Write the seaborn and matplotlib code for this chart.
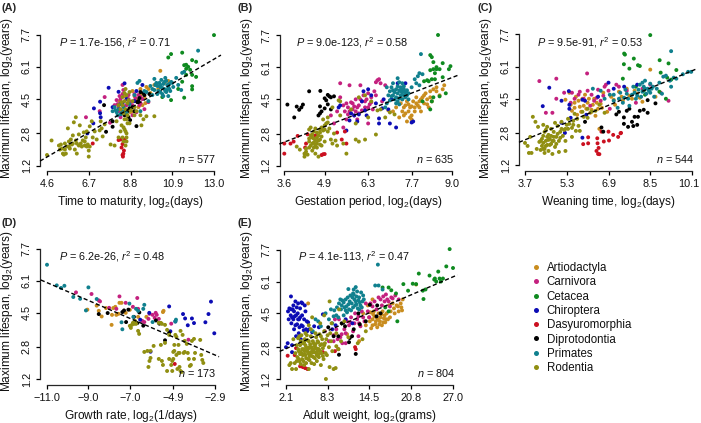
import matplotlib
matplotlib.use("Agg")
import matplotlib.pyplot as plt
from matplotlib.lines import Line2D
from matplotlib.transforms import ScaledTranslation
import pandas as pd
import seaborn as sns

sns.set_style("ticks")
plt.rcParams['font.family'] = ['Liberation Sans', 'DejaVu Sans']
plt.rcParams['mathtext.fontset'] = 'custom'
plt.rcParams['mathtext.rm'] = 'Liberation Sans'
plt.rcParams['mathtext.it'] = 'Liberation Sans:italic'
plt.rcParams['mathtext.bf'] = 'Liberation Sans:bold'

ORDERS = ["Artiodactyla", "Carnivora", "Cetacea", "Chiroptera", "Dasyuromorphia",
          "Diprotodontia", "Primates", "Rodentia"]
COLORS = ["#C98D1F", "#C4217F", "#0F8A20", "#0C0CB4", "#CB1020", "#000000", "#10808E", "#908F12"]
YTICKS = [1.2, 2.8, 4.5, 6.1, 7.7]

# ---------- Panel A ----------
A_art = [(8.7,4.3),(8.9,4.9),(9.1,4.5),(9.3,5.0),(9.5,4.6),(9.6,5.1),(9.8,4.8),(10.3,5.9),(10.0,5.2),(10.2,5.0),(10.5,5.3),(10.7,5.4),(9.2,4.1),(8.6,4.6),(9.4,4.2),(8.9,3.9),(8.25,4.4),(8.5,4.65),(9.0,4.65),(9.35,4.75),(9.55,4.3),(8.8,3.85),(9.7,5.0)]
A_car = [(6.56,3.6),(7.5,4.6),(7.25,3.9),(7.77,3.33),(8.1,4.45),(8.2,4.1),(8.44,4.95),(8.4,5.2),(8.0,4.2),(8.3,4.5),(8.5,3.9),(8.6,4.2),(8.2,3.9),(8.9,4.2),(9.0,4.4),(9.2,4.7),(9.3,4.3),(9.4,4.5),(9.5,4.0),(8.7,4.7),(8.9,3.7),(8.3,3.6),(9.1,3.85),(9.7,4.35),(8.3,4.3),(8.45,4.15),(8.7,4.5),(8.8,4.35),(9.05,4.55),(9.15,4.35),(9.3,4.6),(8.4,4.75),(8.25,4.65),(8.15,4.25),(9.0,4.75),(9.25,4.2)]
A_cet = [(13.0,7.67),(10.84,6.73),(10.7,6.56),(11.4,6.8),(11.5,6.18),(11.6,6.0),(11.7,6.1),(11.8,5.95),(11.9,6.43),(12.1,6.35),(11.9,5.14),(11.9,4.98),(11.5,4.57),(10.84,4.45),(11.4,5.36),(11.6,5.7),(11.9,5.7),(12.1,5.6),(10.4,4.6),(11.2,5.0),(11.6,6.2)]
A_chi = [(7.7,5.06),(8.5,5.28),(8.2,4.86),(7.27,4.37),(6.96,4.04),(7.27,3.8),(6.93,3.3),(6.63,2.8),(8.6,4.5),(9.1,4.9),(9.4,5.2),(7.3,3.6),(7.9,4.1),(8.4,4.3),(9.0,4.4)]
A_das = [(6.9,2.3),(8.2,2.47),(8.3,2.5),(8.4,2.27),(8.44,1.8),(8.4,1.73),(8.47,1.95),(8.5,2.5),(8.35,2.1),(8.42,1.65)]
A_dip = [(7.47,4.2),(7.9,3.13),(7.57,2.88),(9.1,3.16),(8.78,3.46),(8.36,3.8),(8.6,3.95),(9.2,4.4),(9.5,4.7),(9.75,4.75),(8.5,3.7),(8.9,4.1),(9.0,3.9),(8.7,3.6),(9.3,4.85),(7.9,3.4),(8.55,3.85),(8.65,3.9),(8.75,4.05),(9.15,4.35),(9.25,4.55),(9.45,4.8)]
A_pri = [(12.2,6.9),(11.4,5.8),(11.5,5.85),(7.9,3.9),(8.0,4.1),(8.1,3.85),(8.15,3.7),(8.3,4.25),(8.4,3.9),(8.6,3.8),(9.0,4.7),(9.15,5.3),(9.25,5.4),(9.8,5.15),(10.0,5.5),(10.1,5.3),(10.2,4.9),(10.3,5.1),(10.35,5.45),(10.4,4.75),(10.45,5.25),(10.5,5.0),(10.55,5.55),(10.6,4.85),(10.65,5.2),(10.7,4.65),(10.75,5.0),(10.85,5.35),(10.95,5.1),(11.1,5.55),(11.2,5.2),(11.35,4.95),(9.6,4.85),(9.7,4.4),(9.9,4.7),(9.3,3.9),(9.5,4.9),(10.0,4.95),(10.15,5.15),(10.6,5.4),(8.2,4.0),(8.45,4.1),(8.75,4.25),(8.3,3.75),(8.05,3.95),(9.9,5.0),(10.05,5.2),(10.25,5.3),(10.3,4.85),(10.4,5.05),(10.5,5.35),(10.55,4.9),(10.7,5.1),(10.8,4.9),(10.9,5.3),(10.3,5.2),(10.6,4.95),(10.45,4.65),(10.75,5.25),(10.15,4.75)]
A_rod = [(4.6,1.73),(4.83,2.45),(5.2,2.2),(5.25,2.0),(5.3,2.25),(5.4,1.8),(5.45,1.75),(5.5,2.0),(5.55,1.8),(5.6,2.15),(5.65,3.05),(5.7,2.4),(5.75,2.05),(5.8,2.5),(5.85,2.25),(5.9,2.7),(5.95,3.35),(6.0,2.0),(6.05,3.6),(6.1,1.8),(6.1,2.3),(6.2,2.75),(6.25,3.2),(6.3,2.3),(6.35,2.15),(6.4,2.45),(6.45,2.85),(6.5,2.2),(6.55,2.6),(6.6,2.9),(6.65,2.25),(6.7,1.65),(6.7,1.95),(6.75,2.15),(6.75,3.15),(6.85,3.4),(6.9,2.6),(7.0,2.9),(7.1,2.5),(7.25,2.95),(7.3,3.4),(7.35,3.05),(7.4,2.65),(7.5,3.25),(7.8,2.25),(8.0,2.2),(8.1,3.4),(8.2,2.6),(8.35,3.2),(8.4,2.6),(8.45,2.4),(8.5,3.0),(8.5,3.5),(8.55,2.2),(8.6,2.8),(8.65,3.7),(8.6,2.4),(8.55,4.0),(8.3,4.0),(8.2,4.2),(8.5,4.4),(8.6,4.7),(8.55,5.0),(8.4,4.6),(8.75,3.3),(8.9,4.4),(9.0,4.1),(9.1,3.9),(9.3,3.7),(9.35,3.2),(9.45,3.5),(9.6,3.65),(10.0,3.65),(9.0,3.7),(8.8,3.95),(8.65,3.3),(8.4,4.2),(8.65,4.3),(8.7,4.45),(8.75,4.85),(8.5,4.8),(8.35,4.35),(8.45,3.8),(8.6,3.5),(8.45,3.1),(8.3,2.9),(8.55,2.9),(8.6,2.6),(5.5,2.3),(5.9,2.3),(6.2,2.2),(6.05,2.45),(6.5,2.4),(6.6,2.15),(5.35,2.05),(5.7,2.15)]

# ---------- Panel B ----------
B_art = [(7.1,3.9),(7.2,4.1),(7.3,3.6),(7.35,4.3),(7.4,3.9),(7.45,3.7),(7.5,4.2),(7.55,4.4),(7.55,3.4),(7.6,3.9),(7.65,4.1),(7.7,3.7),(7.75,4.4),(7.8,4.1),(7.85,4.6),(7.9,4.2),(7.95,4.4),(8.0,3.9),(8.05,4.6),(8.1,4.3),(8.15,4.8),(8.2,4.5),(8.3,4.9),(8.35,4.4),(8.4,5.0),(8.5,5.1),(8.6,4.7),(8.7,5.0),(8.75,5.2),(7.4,4.5),(6.95,3.95),(8.25,4.1),(7.5,3.8),(7.6,4.25),(7.7,4.15),(7.8,3.9),(7.85,4.3),(7.95,4.1),(8.0,4.5),(8.1,4.7),(8.2,4.25),(7.65,3.6),(7.45,4.1),(7.7,3.5),(8.3,4.6),(8.5,4.9)]
B_car = [(5.1,3.7),(5.2,3.3),(5.3,3.9),(5.4,4.6),(5.4,5.3),(5.5,4.2),(5.55,3.9),(5.6,3.5),(5.65,4.1),(5.7,5.2),(5.75,4.35),(5.8,4.0),(5.85,3.7),(5.9,4.5),(5.95,4.1),(6.0,3.8),(6.05,5.2),(6.1,4.4),(6.15,4.7),(6.2,4.1),(6.25,4.5),(6.3,4.8),(6.35,4.25),(6.4,4.6),(6.45,4.0),(6.5,4.9),(6.6,5.45),(6.65,5.5),(6.7,5.3),(6.75,4.4),(6.85,5.2),(6.3,3.3),(5.95,3.5),(6.55,4.7),(5.5,3.1),(5.7,3.9),(5.8,4.3),(5.9,3.9),(6.0,4.2),(6.1,3.95),(6.2,4.4),(6.3,4.1),(6.4,4.35),(5.85,4.15),(5.65,3.75),(5.6,4.3),(6.05,4.5),(6.55,5.35)]
B_cet = [(8.55,7.7),(8.3,6.7),(8.35,6.6),(8.4,6.35),(8.3,5.95),(8.4,6.0),(8.45,5.8),(8.5,6.1),(8.35,5.5),(8.25,5.4),(8.1,5.4),(8.2,5.45),(8.45,5.5),(8.6,6.0),(8.7,6.3),(8.95,6.15),(8.9,6.0),(8.7,5.6),(8.8,4.8),(8.6,4.65),(8.3,4.0),(8.35,4.4),(8.4,4.6),(8.05,4.4),(8.5,6.0)]
B_chi = [(5.35,4.1),(5.4,4.2),(5.75,3.8),(5.6,2.95),(5.7,3.45),(5.85,3.7),(5.95,3.4),(6.0,3.75),(6.1,4.4),(6.15,4.9),(6.2,3.95),(6.25,3.7),(6.3,5.0),(6.55,4.3),(6.65,3.3),(6.65,3.55),(6.75,4.05),(6.95,4.0),(7.0,3.3),(7.05,4.5),(7.2,3.1),(7.25,5.3),(7.5,5.3),(7.7,3.35),(7.75,3.4),(6.8,4.5),(6.4,4.7)]
B_das = [(3.6,2.3),(3.6,1.8),(3.8,2.3),(4.03,2.68),(3.9,2.4),(4.35,2.76),(4.3,2.3),(4.27,2.1),(4.8,1.73),(4.85,1.77),(4.9,1.78),(5.55,2.9),(5.6,2.3),(5.45,2.5),(5.3,2.85),(4.6,2.7)]
B_dip = [(3.7,4.24),(3.92,3.6),(4.0,4.14),(4.08,3.98),(4.2,4.24),(4.15,4.1),(4.4,4.9),(4.76,4.92),(5.0,4.72),(4.9,4.55),(4.95,4.45),(5.05,4.65),(5.1,4.6),(5.2,4.65),(5.0,4.25),(4.75,4.15),(4.8,3.9),(4.7,3.7),(4.75,3.8),(4.9,4.05),(5.1,4.0)]
B_pri = [(8.0,6.75),(7.9,5.65),(7.95,5.8),(8.05,5.75),(7.8,5.5),(7.85,5.3),(7.95,5.2),(7.25,5.55),(7.3,5.35),(7.35,5.1),(7.4,5.3),(7.45,5.0),(7.5,4.85),(7.1,5.3),(7.2,5.0),(7.25,4.8),(7.3,4.95),(7.35,4.7),(7.4,4.5),(7.45,4.7),(7.0,4.9),(7.05,5.1),(6.9,5.1),(6.95,4.7),(7.1,4.7),(7.15,4.5),(7.2,4.3),(7.3,4.25),(6.9,4.3),(7.0,4.45),(6.85,4.1),(7.55,4.7),(7.6,4.5),(7.7,5.1),(7.1,4.95),(7.4,4.85),(7.25,5.15),(7.35,4.9),(7.45,5.15),(7.2,4.6),(7.3,4.55),(7.4,5.0),(7.15,4.85),(7.05,4.65),(7.55,4.95),(7.5,4.6),(7.25,4.4),(7.6,4.8)]
B_rod = [(4.0,2.15),(4.1,2.0),(4.25,1.8),(4.25,1.65),(4.3,1.9),(4.3,2.05),(4.35,1.75),(4.4,3.0),(4.4,2.4),(4.4,2.1),(4.45,3.1),(4.45,2.7),(4.5,2.3),(4.5,1.95),(4.55,2.9),(4.55,2.55),(4.6,3.05),(4.6,2.2),(4.6,1.8),(4.65,2.6),(4.65,2.1),(4.7,2.45),(4.7,1.65),(4.75,2.85),(4.75,2.25),(4.8,3.1),(4.8,2.65),(4.85,3.5),(4.9,3.0),(4.9,2.4),(4.95,3.3),(5.0,3.6),(5.0,2.9),(5.05,3.05),(5.1,2.5),(5.15,2.3),(5.2,2.8),(5.25,2.45),(5.3,2.2),(5.35,4.45),(5.4,3.7),(5.5,2.3),(5.6,1.8),(5.15,4.1),(5.4,4.4),(5.75,4.0),(5.9,2.5),(6.0,2.4),(6.2,2.5),(6.3,3.6),(6.55,2.75),(6.85,3.6),(7.0,3.85),(6.6,3.95),(6.0,4.6),(6.2,4.7),(6.7,4.0),(7.15,3.75),(6.4,4.4),(5.9,3.3),(4.45,2.2),(4.5,2.6),(4.55,2.1),(4.6,2.45),(4.65,2.85),(4.7,2.7),(4.75,2.5),(4.8,2.2),(4.55,2.35),(4.5,2.75),(4.85,2.95),(4.4,2.55),(4.65,2.3),(4.75,3.0),(4.9,3.2),(5.0,3.35)]

# ---------- Panel C ----------
C_art = [(5.25,4.45),(5.4,4.8),(5.45,4.2),(5.5,3.9),(5.6,4.3),(5.65,4.6),(5.7,3.7),(5.8,4.1),(5.85,3.85),(5.9,4.5),(6.0,4.7),(6.05,4.0),(6.1,4.3),(6.2,3.8),(6.3,4.2),(6.35,4.5),(6.4,3.65),(6.5,4.0),(6.55,3.0),(6.6,4.25),(6.7,4.8),(6.85,3.85),(7.0,4.6),(7.15,4.2),(7.3,4.85),(7.45,4.4),(7.6,5.0),(7.8,4.5),(8.0,4.75),(8.2,4.35),(8.5,5.95),(8.7,4.6),(5.6,4.05),(5.75,4.4),(5.95,4.15),(6.15,4.5),(6.25,3.95),(6.45,4.3),(6.65,4.05),(7.1,4.45),(7.4,4.6),(7.7,4.65),(7.9,4.9),(8.1,4.55)]
C_car = [(4.25,5.38),(4.9,5.5),(6.08,5.76),(5.2,4.8),(4.9,4.5),(4.5,3.8),(4.75,3.8),(5.45,4.3),(5.75,4.7),(5.95,4.5),(6.1,4.9),(6.2,4.15),(6.35,4.4),(6.5,4.95),(6.6,4.4),(6.75,5.1),(6.9,4.9),(6.95,4.0),(7.2,5.2),(7.3,5.1),(7.6,4.9),(7.95,4.3),(8.2,5.0),(8.5,5.2),(8.9,4.8),(9.2,4.4),(5.5,4.8),(5.6,4.5),(5.8,4.85),(6.25,4.7),(6.45,4.55),(6.7,4.65),(6.8,5.2)]
C_cet = [(8.5,7.67),(7.5,6.75),(7.53,6.7),(7.49,6.22),(7.87,6.5),(7.7,6.0),(8.03,6.17),(8.1,6.13),(8.86,6.42),(9.2,6.26),(8.9,5.8),(9.15,5.55),(9.3,5.45),(9.5,5.93),(7.45,5.5),(8.25,4.9),(8.85,4.85),(9.1,4.5),(8.3,4.7),(7.95,5.1)]
C_chi = [(4.63,5.05),(4.38,4.13),(5.38,4.88),(5.1,4.4),(5.4,4.2),(5.4,4.0),(5.9,2.56),(5.23,2.8),(5.9,4.45),(6.0,4.4),(6.9,5.3),(7.5,5.1),(5.1,3.3),(5.45,3.55),(6.05,3.7),(8.0,5.2),(7.1,5.0),(6.5,4.6)]
C_das = [(5.93,2.24),(6.12,2.28),(6.12,2.58),(6.47,2.53),(6.48,2.28),(6.44,1.9),(6.5,1.75),(6.55,1.74),(6.52,2.05),(6.63,2.86),(6.72,2.37),(6.9,2.86),(6.92,2.42),(7.08,2.7),(7.27,2.6),(7.36,2.78),(7.38,2.8)]
C_dip = [(6.63,3.07),(6.7,2.86),(7.2,3.72),(7.3,3.85),(7.49,3.57),(7.49,3.25),(7.65,3.1),(7.85,3.14),(7.9,3.6),(8.03,3.6),(8.1,3.9),(8.25,3.95),(8.4,3.8),(7.7,4.0),(7.6,3.9),(8.4,4.43),(8.7,4.27),(6.0,3.35),(7.8,3.35),(8.0,3.2)]
C_pri = [(9.3,6.87),(10.07,5.84),(9.95,5.84),(9.75,5.72),(9.25,5.4),(9.3,5.1),(9.1,5.65),(9.4,5.55),(9.0,5.6),(6.95,4.7),(7.1,4.4),(7.25,4.05),(7.35,4.8),(7.45,4.3),(7.55,4.95),(7.65,4.5),(7.7,4.15),(7.8,4.7),(7.85,5.1),(7.95,4.5),(8.05,4.95),(8.1,5.2),(8.15,4.6),(8.25,5.1),(8.3,5.4),(8.35,4.75),(8.4,5.0),(8.5,5.25),(8.5,4.8),(8.6,5.1),(8.65,4.6),(8.75,5.0),(8.85,5.3),(8.95,4.75),(6.6,4.9),(6.75,4.5),(6.3,5.0),(9.5,5.5),(7.6,4.75),(7.9,4.8),(8.0,4.65),(8.2,4.85),(8.3,5.0),(8.45,4.9),(8.55,5.0),(8.2,5.3),(7.5,4.55),(7.3,4.5),(7.1,4.7)]
C_rod = [(3.7,2.3),(3.8,2.15),(3.85,1.8),(3.95,1.8),(3.9,2.6),(4.0,3.6),(4.1,3.35),(4.15,2.0),(4.2,3.1),(4.3,1.95),(4.3,2.4),(4.35,2.15),(4.4,3.2),(4.4,2.65),(4.45,1.8),(4.45,2.0),(4.5,2.95),(4.5,2.4),(4.55,3.1),(4.55,2.2),(4.6,2.7),(4.6,1.9),(4.65,2.5),(4.7,3.0),(4.7,2.25),(4.75,1.75),(4.8,2.85),(4.8,2.4),(4.85,3.3),(4.85,2.1),(4.9,2.6),(4.95,3.15),(5.0,1.85),(5.0,2.4),(5.05,2.85),(5.1,3.35),(5.15,2.65),(5.2,2.95),(5.25,1.9),(5.25,2.4),(5.3,3.2),(5.35,3.5),(5.5,3.05),(5.55,3.4),(5.65,2.9),(5.7,3.5),(5.5,2.6),(5.8,2.9),(5.6,3.75),(5.9,3.85),(6.1,4.0),(6.25,3.85),(6.4,3.9),(6.1,3.55),(5.35,3.0),(5.75,3.15),(4.25,2.35),(4.45,2.85),(6.55,4.2),(6.75,3.8),(4.4,2.3),(4.5,2.15),(4.6,2.45),(4.65,2.2),(4.7,2.65),(4.75,2.4),(4.55,2.6),(4.35,2.5),(4.4,2.0),(4.8,2.6),(4.9,2.25),(4.95,2.75),(5.05,2.55),(5.1,3.0),(5.25,3.0),(5.4,3.25),(5.55,3.2),(5.95,3.6)]

# ---------- Panel D ----------
D_art = [(-9.05,4.66),(-8.6,4.86),(-8.5,4.6),(-8.36,4.32),(-7.86,4.4),(-7.88,3.9),(-8.15,4.74),(-7.8,4.74),(-7.65,4.4),(-7.5,5.0),(-7.4,5.0),(-7.2,4.5),(-7.0,4.65),(-6.6,4.3),(-6.2,4.3),(-5.4,4.54),(-5.37,4.6),(-7.55,4.45),(-7.7,4.8)]
D_car = [(-9.6,5.52),(-8.85,5.44),(-8.44,5.07),(-8.5,5.12),(-7.5,5.32),(-7.2,5.0),(-6.64,5.24),(-6.85,4.8),(-7.65,4.7),(-6.05,4.45),(-5.9,4.4),(-5.8,4.25),(-5.7,4.4),(-5.6,4.2),(-6.3,4.04),(-6.4,4.1),(-6.1,4.2),(-5.0,3.96),(-4.17,3.16),(-8.0,4.75),(-5.75,4.5),(-6.6,4.7)]
D_cet = []
D_chi = [(-5.1,4.82),(-6.06,4.5),(-3.08,5.06),(-3.2,4.44),(-4.43,4.44),(-4.33,4.22),(-4.0,4.22),(-4.2,3.88),(-3.9,3.99),(-3.35,4.03),(-2.92,3.48),(-5.04,3.58),(-4.8,4.07),(-6.5,4.16),(-6.0,2.56)]
D_das = [(-4.83,1.95)]
D_dip = [(-8.5,4.44),(-8.07,4.49),(-7.36,4.54),(-7.18,4.04),(-7.28,4.62),(-7.07,4.66),(-6.54,4.52),(-6.64,3.99),(-6.35,3.86),(-5.74,4.12),(-5.57,3.96),(-5.3,3.13),(-6.8,4.3),(-5.1,3.5)]
D_pri = [(-11.0,6.9),(-10.53,5.87),(-10.32,5.74),(-10.16,5.85),(-9.73,5.29),(-9.4,5.2),(-9.0,5.77),(-9.12,4.62),(-8.6,5.19),(-7.4,4.03),(-7.36,3.68),(-7.02,4.96),(-6.3,4.9),(-6.35,4.7),(-6.83,4.3),(-5.9,4.04),(-4.77,4.16),(-4.8,4.07),(-6.7,4.7),(-6.6,4.6)]
D_rod = [(-7.0,3.85),(-6.9,3.9),(-6.8,3.95),(-6.75,4.1),(-6.6,3.6),(-6.55,3.45),(-5.6,4.0),(-5.45,3.95),(-5.3,3.9),(-5.2,3.65),(-6.3,2.55),(-6.15,2.6),(-6.0,2.6),(-5.85,2.85),(-6.0,2.25),(-6.05,2.1),(-6.1,1.8),(-5.6,2.2),(-5.4,1.9),(-5.45,2.1),(-5.2,1.6),(-5.1,2.2),(-4.95,2.1),(-5.0,1.9),(-4.95,1.6),(-4.9,2.55),(-4.85,2.6),(-4.8,3.4),(-4.85,2.9),(-4.75,2.4),(-4.65,2.5),(-4.6,1.8),(-4.55,1.6),(-4.5,1.55),(-4.4,2.5),(-4.35,3.1),(-4.45,3.4),(-4.55,3.6),(-4.2,2.5),(-4.15,2.2),(-4.1,1.85),(-4.05,1.9),(-4.0,3.1),(-3.9,3.2),(-3.85,2.5),(-3.9,2.2),(-3.6,3.15),(-3.55,2.4),(-3.5,2.15),(-3.45,2.0),(-5.5,2.9),(-5.3,3.0),(-5.1,3.4),(-4.75,3.3),(-4.25,2.95),(-4.65,2.9),(-6.7,3.95),(-6.85,4.0),(-6.95,3.75),(-5.5,4.0),(-4.35,2.55),(-4.6,2.5),(-4.7,1.7),(-4.9,2.2)]

# ---------- Panel E ----------
E_art = [(13.6,4.5),(14.0,3.9),(14.3,4.9),(14.5,4.3),(14.8,3.75),(15.0,4.2),(15.2,4.6),(15.4,3.95),(15.6,4.3),(15.7,3.8),(15.9,4.5),(16.1,4.1),(16.2,4.3),(16.4,3.9),(16.5,4.6),(16.7,4.25),(16.9,4.05),(17.1,4.5),(17.3,4.2),(17.5,4.9),(17.7,4.6),(18.0,5.0),(18.3,4.5),(18.6,4.9),(18.9,4.6),(19.2,5.0),(19.4,4.65),(19.5,5.2),(21.5,5.95),(11.2,3.45),(13.0,3.1),(5.4,5.0),(15.0,5.2),(14.6,4.1),(15.0,3.9),(15.3,4.35),(15.5,4.1),(15.8,4.2),(16.0,3.95),(16.3,4.45),(16.6,4.05),(16.8,4.4),(17.0,4.2),(15.1,4.45),(14.7,4.55),(17.6,4.3),(18.2,4.75),(18.8,4.85),(19.3,4.8)]
E_car = [(8.5,3.1),(9.2,3.4),(9.6,3.7),(10.2,3.3),(10.5,3.0),(10.8,3.7),(11.2,4.1),(11.5,3.9),(11.8,4.3),(12.1,3.6),(12.4,4.5),(12.7,4.2),(13.0,4.0),(13.4,4.6),(13.8,4.1),(14.3,4.6),(14.7,5.0),(15.3,5.1),(15.6,4.7),(15.9,5.3),(16.2,5.2),(16.6,5.35),(17.0,5.45),(17.4,5.1),(17.8,5.3),(18.4,5.4),(18.9,5.2),(11.0,3.0),(9.4,4.2),(10.0,4.2),(14.0,5.0),(12.9,3.35),(7.9,3.6),(16.4,4.9),(16.8,5.1),(17.2,5.2),(17.6,4.85),(18.0,5.25),(15.0,4.85),(14.5,4.3),(13.6,4.3),(12.9,4.35),(12.3,4.0),(11.7,4.05),(11.0,3.5),(10.4,3.45),(9.8,3.2),(9.2,3.1),(13.2,3.85)]
E_cet = [(26.5,7.73),(26.0,6.86),(27.0,6.78),(21.9,6.5),(23.5,6.4),(24.2,6.2),(24.5,6.1),(25.0,6.25),(25.5,6.25),(24.8,6.6),(24.3,6.25),(25.2,6.1),(22.5,5.64),(22.9,5.7),(22.6,5.22),(19.6,5.97),(21.0,5.99),(21.5,5.97),(20.3,5.64),(17.8,5.66),(18.7,4.1),(17.4,4.6),(16.9,4.8),(17.4,5.8),(16.5,5.8),(18.5,5.5)]
E_chi = [(2.1,2.8),(2.4,4.6),(2.5,4.2),(2.6,4.75),(2.8,4.4),(2.84,5.35),(2.9,4.0),(3.0,2.55),(3.1,4.7),(3.2,4.2),(3.3,3.7),(3.4,4.35),(3.5,5.1),(3.6,3.35),(3.7,4.8),(3.75,3.95),(3.85,4.5),(4.0,3.5),(4.05,4.2),(4.2,4.75),(4.3,3.2),(4.4,5.05),(4.5,4.4),(4.6,3.85),(4.7,3.0),(4.75,3.65),(4.9,4.9),(5.0,4.6),(5.1,3.7),(5.25,3.6),(5.4,4.05),(5.6,3.7),(6.0,3.55),(6.3,3.85),(7.0,3.8),(7.6,4.45),(9.0,3.7),(9.5,3.9),(11.0,4.2),(12.0,4.0),(2.35,3.0),(3.0,2.9),(3.9,5.0),(4.55,5.0),(3.0,4.3),(3.3,4.6),(3.6,4.4),(3.9,4.2),(4.2,4.3),(4.4,3.9),(4.1,3.8),(3.5,3.9),(2.9,4.7),(3.2,4.9),(4.8,4.2),(5.2,4.1)]
E_das = [(2.35,2.37),(3.4,2.4),(4.2,1.84),(4.95,1.75),(5.3,1.7),(7.6,2.55),(9.9,2.7),(9.4,2.6),(12.4,2.8),(12.5,2.7),(3.6,2.75),(4.6,1.8)]
E_dip = [(10.0,2.42),(12.5,2.46),(11.6,3.26),(11.95,3.35),(12.2,3.7),(8.4,3.8),(10.9,3.85),(9.9,3.35),(9.2,3.35),(13.1,3.95),(14.6,4.93),(15.6,4.35),(15.7,4.9),(14.0,4.1),(11.5,3.05),(10.4,4.0),(12.9,4.5),(16.2,4.5)]
E_pri = [(15.8,6.95),(11.4,5.72),(12.5,5.82),(15.4,5.9),(15.9,5.9),(16.5,5.7),(8.5,4.2),(9.0,4.0),(9.3,4.65),(9.6,4.4),(10.0,5.0),(10.3,4.7),(10.5,5.15),(10.8,4.8),(11.0,5.2),(11.2,4.55),(11.4,4.95),(11.6,5.1),(11.8,4.65),(12.0,5.3),(12.2,5.45),(12.4,4.9),(12.5,5.1),(12.7,5.6),(12.8,4.75),(13.0,5.3),(13.1,5.05),(13.3,5.55),(13.4,4.8),(13.6,5.4),(6.1,3.6),(6.5,4.2),(7.3,3.85),(8.0,4.5),(8.8,4.7),(9.9,4.3),(10.7,4.4),(13.0,4.7),(12.1,4.8),(6.9,4.1),(10.4,4.9),(10.7,5.05),(11.1,4.85),(11.3,5.3),(11.5,4.7),(11.7,5.4),(11.9,5.0),(12.1,5.5),(12.3,5.2),(12.6,4.95),(12.9,5.15),(13.2,4.9),(12.2,5.7),(12.6,5.35),(13.5,5.1),(13.7,5.2),(9.7,4.8),(9.2,4.35),(10.2,5.2),(11.0,4.65)]
E_rod = [(2.6,1.9),(2.8,2.0),(3.0,1.7),(3.2,3.2),(3.4,2.0),(3.6,1.7),(3.7,2.9),(3.8,2.3),(3.9,3.25),(4.0,2.6),(4.1,2.1),(4.2,2.9),(4.3,1.95),(4.4,3.4),(4.4,2.5),(4.5,2.2),(4.6,3.0),(4.7,2.7),(4.8,1.9),(4.9,3.2),(5.0,2.4),(5.1,2.8),(5.1,2.0),(5.2,3.4),(5.3,2.6),(5.4,2.2),(5.5,3.1),(5.5,1.7),(5.6,2.8),(5.7,2.4),(5.8,3.35),(5.9,2.0),(6.0,2.7),(6.1,3.1),(6.2,2.3),(6.3,1.95),(6.4,2.85),(6.5,3.5),(6.6,2.5),(6.7,2.1),(6.8,3.1),(6.9,2.7),(7.0,2.3),(7.1,3.45),(7.2,2.9),(7.3,1.9),(7.4,2.5),(7.5,3.2),(7.6,2.75),(7.7,2.2),(7.8,3.6),(7.9,3.0),(8.05,1.2),(8.2,2.4),(8.3,3.4),(8.5,2.8),(8.6,1.8),(8.8,3.1),(9.0,2.6),(9.2,1.7),(9.5,1.75),(9.6,2.85),(9.9,2.7),(10.3,3.1),(5.5,3.9),(6.0,4.3),(7.2,4.0),(7.8,4.4),(8.6,5.1),(8.9,4.0),(10.0,4.7),(11.4,3.3),(12.8,3.0),(13.5,3.2),(14.0,3.6),(10.8,4.1),(9.6,3.5),(4.3,2.55),(4.8,2.45),(5.6,2.15),(6.3,2.55),(7.0,2.7),(3.5,2.5),(3.7,2.1),(3.9,2.7),(4.0,2.2),(4.2,2.45),(4.3,3.1),(4.5,2.7),(4.6,2.4),(4.7,2.1),(4.8,3.05),(4.9,2.6),(5.0,2.9),(5.1,2.25),(5.2,2.65),(5.3,3.15),(5.4,2.5),(5.5,2.75),(5.6,2.35),(5.7,2.95),(5.8,2.55),(5.9,2.8),(6.0,2.35),(6.1,2.55),(6.2,3.0),(6.3,2.7),(6.4,2.25),(6.5,2.95),(6.6,2.75),(6.7,2.4),(6.8,2.6),(6.9,3.05),(7.0,2.45),(7.2,2.6),(7.4,2.95),(7.6,2.35),(7.8,2.9),(8.0,2.5),(4.1,3.35),(5.0,3.5),(5.8,3.7),(6.6,3.3),(7.3,3.35),(8.1,3.2),(8.7,3.5)]

# dashed fit line ends (x, y) per panel
A_fit = ([4.25, 13.35], [1.43, 6.68])
B_fit = ([3.44, 9.23], [2.28, 5.72])
C_fit = ([3.47, 10.3], [2.33, 6.0])
D_fit = ([-11.3, -2.69], [6.14, 2.31])
E_fit = ([1.16, 27.65], [2.59, 6.43])

A_xticks = [4.6, 6.7, 8.8, 10.9, 13.0]
B_xticks = [3.6, 4.9, 6.3, 7.7, 9.0]
C_xticks = [3.7, 5.3, 6.9, 8.5, 10.1]
D_xticks = [-11.0, -9.0, -7.0, -4.9, -2.9]
E_xticks = [2.1, 8.3, 14.5, 20.8, 27.0]

A_xlabel = r"Time to maturity, log$_2$(days)"
B_xlabel = r"Gestation period, log$_2$(days)"
C_xlabel = r"Weaning time, log$_2$(days)"
D_xlabel = r"Growth rate, log$_2$(1/days)"
E_xlabel = r"Adult weight, log$_2$(grams)"
YLABEL = r"Maximum lifespan, log$_2$(years)"

A_note = r"$\mathit{P}$ = 1.7e-156, $\mathit{r}^2$ = 0.71"
B_note = r"$\mathit{P}$ = 9.0e-123, $\mathit{r}^2$ = 0.58"
C_note = r"$\mathit{P}$ = 9.5e-91, $\mathit{r}^2$ = 0.53"
D_note = r"$\mathit{P}$ = 6.2e-26, $\mathit{r}^2$ = 0.48"
E_note = r"$\mathit{P}$ = 4.1e-113, $\mathit{r}^2$ = 0.47"

A_n, B_n, C_n, D_n, E_n = 577, 635, 544, 173, 804

W, H = 701, 423
fig = plt.figure(figsize=(W / 100, H / 100), dpi=100)

FS_TICK = 7.8
FS_LAB = 8.6
FS_NOTE = 7.8


def panel(letter, series, fit, xticks, xlabel, note, n, geom):
    L, R, T, B, x0, x1, y0, y1, nx, nox, letx, lety = geom
    ax = fig.add_axes([L / W, 1 - B / H, (R - L) / W, (B - T) / H])
    ax.patch.set_alpha(0)
    # pixel -> data mapping
    sx = (xticks[-1] - xticks[0]) / (x1 - x0)
    sy = (YTICKS[-1] - YTICKS[0]) / (y0 - y1)
    ax.set_xlim(xticks[0] + (L - x0) * sx, xticks[0] + (R - x0) * sx)
    ax.set_ylim(YTICKS[0] + (y0 - B) * sy, YTICKS[0] + (y0 - T) * sy)
    rows = [(o, x, y) for o, pts in zip(ORDERS, series) for x, y in pts]
    df = pd.DataFrame(rows, columns=["order", "x", "y"])
    sns.scatterplot(data=df, x="x", y="y", hue="order", hue_order=ORDERS,
                    palette=dict(zip(ORDERS, COLORS)), s=8, linewidth=0,
                    legend=False, ax=ax, clip_on=False, zorder=2)
    sns.lineplot(x=fit[0], y=fit[1], ax=ax, color="black", lw=1.0, zorder=3,
                 linestyle=(0, (3, 1.8)), errorbar=None, sort=False, clip_on=False)
    sns.despine(ax=ax)
    ax.spines['left'].set_bounds(YTICKS[0], YTICKS[-1])
    ax.spines['bottom'].set_bounds(xticks[0], xticks[-1])
    for s in ('left', 'bottom'):
        ax.spines[s].set_linewidth(0.9)
    ax.set_xticks(xticks)
    ax.set_xticklabels([f"{v:.1f}".replace("-", "\u2212") for v in xticks], fontsize=FS_TICK)
    ax.set_yticks(YTICKS)
    ax.set_yticklabels([f"{v:.1f}" for v in YTICKS], fontsize=FS_TICK, rotation=90, va="center")
    ax.tick_params(axis='both', length=3, width=0.9, pad=3, color="black", labelcolor="#111111")
    ax.set_xlabel("")
    ax.set_ylabel("")
    fig.text((x0 + x1) / 2 / W, 1 - (B + 31) / H, xlabel, fontsize=FS_LAB, ha="center", va="center", color="#111111")
    fig.text((L - 33) / W, 1 - (T + 70) / H, YLABEL, fontsize=FS_LAB, rotation=90, ha="center", va="center", color="#111111")
    fig.text(nx / W, 1 - (T + 15) / H, note, fontsize=FS_NOTE, ha="left", va="center", color="#111111")
    fig.text(nox / W, 1 - (B - 12) / H, f"$\\mathit{{n}}$ = {n}", fontsize=FS_NOTE, ha="right", va="center", color="#111111")
    fig.text(letx / W, 1 - lety / H, f"({letter})", fontsize=7.8, fontweight="bold", ha="left", va="center")
    return ax


A_geom = (40, 222, 28, 171, 47, 214, 165.7, 34.5, 59, 216, 1, 8)
B_geom = (279.7, 460, 28, 171, 284.3, 452, 165.7, 35, 296, 454, 237, 8)
C_geom = (519, 700, 28, 171, 525, 692, 165, 34.5, 537, 694, 477, 8)
D_geom = (40, 222, 241.5, 384.7, 47, 214.7, 379, 248.7, 59, 216, 1, 222.5)
E_geom = (279.7, 460, 241.5, 384.7, 286, 453, 379, 249.7, 298, 455, 237, 222.5)

panel("A", [A_art, A_car, A_cet, A_chi, A_das, A_dip, A_pri, A_rod], A_fit, A_xticks, A_xlabel, A_note, A_n, A_geom)
panel("B", [B_art, B_car, B_cet, B_chi, B_das, B_dip, B_pri, B_rod], B_fit, B_xticks, B_xlabel, B_note, B_n, B_geom)
ax_c = panel("C", [C_art, C_car, C_cet, C_chi, C_das, C_dip, C_pri, C_rod], C_fit, C_xticks, C_xlabel, C_note, C_n, C_geom)
panel("D", [D_art, D_car, D_cet, D_chi, D_das, D_dip, D_pri, D_rod], D_fit, D_xticks, D_xlabel, D_note, D_n, D_geom)
panel("E", [E_art, E_car, E_cet, E_chi, E_das, E_dip, E_pri, E_rod], E_fit, E_xticks, E_xlabel, E_note, E_n, E_geom)

# keep the last tick label of panel C inside the picture
last = ax_c.get_xticklabels()[-1]
last.set_transform(last.get_transform() + ScaledTranslation(-2.5 / 72, 0, fig.dpi_scale_trans))

handles = [Line2D([], [], marker="o", ls="", ms=3.6, mew=0, color=c) for c in COLORS]
fig.legend(handles, ORDERS, loc="upper left", bbox_to_anchor=(527 / W, 1 - 262 / H), frameon=False,
           fontsize=8.3, labelspacing=0.2, handletextpad=0.1, borderpad=0, borderaxespad=0,
           handlelength=1.6, labelcolor="#111111")

fig.savefig("out.png", dpi=100)
